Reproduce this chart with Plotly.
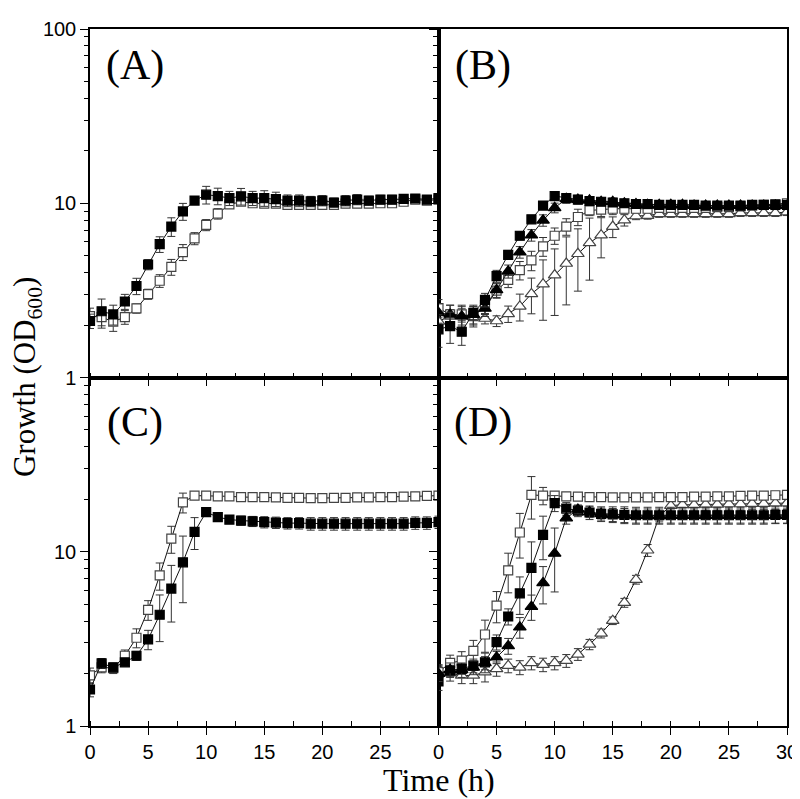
import plotly.graph_objects as go
from plotly.subplots import make_subplots

time_h = list(range(31))

# Panel A
a_filled_sq = [2.11, 2.40, 2.30, 2.73, 3.35, 4.45, 5.82, 7.35, 8.98, 10.36, 11.2, 11.0, 10.7, 10.96, 10.7, 10.7,
               10.57, 10.36, 10.36, 10.25, 10.36, 10.1, 10.36, 10.5, 10.36, 10.5, 10.5, 10.6, 10.65, 10.5, 10.7]
a_filled_sq_err = [0.2, 0.42, 0.3, 0.27, 0.36, 0.3, 0.6, 0.9, 1.0, 0.5, 1.3, 1.2, 1.0, 1.2, 1.0, 1.1,
                   1.0, 0.8, 0.8, 0.7, 0.7, 0.6, 0.7, 0.7, 0.6, 0.6, 0.6, 0.5, 0.5, 0.4, 0.4]
a_open_sq = [2.25, 2.22, 2.09, 2.22, 2.49, 3.01, 3.59, 4.31, 5.24, 6.28, 7.51, 8.71, 9.84, 10.2, 10.0, 9.95,
             9.95, 9.8, 9.8, 9.8, 9.8, 9.8, 9.95, 9.95, 9.95, 10.0, 10.0, 10.2, 10.5, 10.36, 10.5]
a_open_sq_err = [0.25, 0.3, 0.25, 0.2, 0.15, 0.2, 0.3, 0.45, 0.55, 0.5, 0.55, 0.6, 0.5, 0.4, 0.35, 0.35,
                 0.35, 0.35, 0.35, 0.35, 0.35, 0.35, 0.3, 0.3, 0.3, 0.3, 0.3, 0.3, 0.3, 0.3, 0.3]

# Panel B
b_filled_sq = [1.89, 1.97, 1.83, 2.35, 2.79, 3.82, 5.06, 6.51, 8.09, 9.7, 11.0, 10.7, 10.5, 10.3, 10.2, 10.1,
               10.0, 9.9, 9.9, 9.8, 9.8, 9.8, 9.8, 9.7, 9.7, 9.7, 9.7, 9.8, 9.8, 9.8, 9.8]
b_filled_sq_err = [0.4, 0.4, 0.3, 0.2, 0.25, 0.3, 0.3, 0.35, 0.4, 0.5, 0.6, 0.6, 0.6, 0.5, 0.5, 0.5,
                   0.5, 0.5, 0.5, 0.5, 0.5, 0.5, 0.5, 0.5, 0.5, 0.5, 0.5, 0.4, 0.4, 0.4, 0.4]
b_filled_tri = [2.35, 2.3, 2.25, 2.3, 2.49, 3.18, 4.07, 5.24, 6.56, 7.98, 9.41, 10.6, 10.5, 10.4, 10.2, 10.2,
                10.0, 9.9, 9.8, 9.8, 9.8, 9.8, 9.7, 9.7, 9.7, 9.7, 9.7, 9.7, 9.7, 9.7, 9.7]
b_filled_tri_err = [0.3, 0.3, 0.3, 0.3, 0.25, 0.3, 0.35, 0.4, 0.5, 0.6, 0.6, 0.6, 0.5, 0.5, 0.5, 0.5,
                    0.5, 0.5, 0.5, 0.5, 0.5, 0.5, 0.5, 0.5, 0.5, 0.5, 0.5, 0.5, 0.5, 0.5, 0.5]
b_open_sq = [2.5, 2.3, 2.3, 2.25, 2.6, 3.15, 3.63, 4.13, 4.7, 5.66, 6.51, 7.35, 8.34, 9.09, 9.2, 9.3,
             9.3, 9.3, 9.3, 9.4, 9.4, 9.4, 9.4, 9.4, 9.5, 9.5, 9.6, 9.7, 9.8, 9.9, 10.0]
b_open_sq_err = [0.3, 0.3, 0.3, 0.3, 0.3, 0.3, 0.35, 0.5, 0.6, 0.7, 0.7, 0.8, 0.9, 0.6, 0.8, 0.7,
                 0.5, 0.5, 0.5, 0.5, 0.5, 0.5, 0.5, 0.5, 0.5, 0.5, 0.5, 0.5, 0.5, 0.5, 0.5]
b_open_tri = [2.1, 2.25, 2.28, 2.23, 2.18, 2.11, 2.32, 2.56, 3.02, 3.43, 3.87, 4.51, 5.13, 5.92, 6.56, 7.35,
              8.0, 8.45, 8.5, 8.7, 8.7, 8.7, 8.7, 8.7, 8.7, 8.7, 8.8, 8.8, 8.8, 8.8, 8.9]
b_open_tri_err = [0.2, 0.2, 0.2, 0.2, 0.15, 0.15, 0.25, 0.45, 0.7, 1.3, 1.6, 1.9, 2.0, 2.3, 1.7, 1.0,
                  0.6, 0.4, 0.4, 0.4, 0.4, 0.4, 0.4, 0.4, 0.4, 0.4, 0.4, 0.4, 0.4, 0.4, 0.4]

# Panel C
c_filled_sq = [1.62, 2.29, 2.17, 2.32, 2.53, 3.14, 4.35, 6.15, 8.7, 13.0, 16.9, 15.8, 15.3, 15.1, 14.95, 14.8,
               14.7, 14.6, 14.6, 14.5, 14.5, 14.5, 14.5, 14.5, 14.5, 14.5, 14.5, 14.5, 14.65, 14.65, 14.8]
c_filled_sq_err = [0.15, 0.15, 0.1, 0.1, 0.15, 0.4, 1.3, 2.2, 3.6, 2.7, 0.5, 0.6, 0.8, 0.9, 1.0, 1.1,
                   1.1, 1.1, 1.1, 1.2, 1.2, 1.2, 1.2, 1.2, 1.2, 1.2, 1.2, 1.2, 1.2, 1.2, 1.2]
c_open_sq = [1.95, 2.17, 2.15, 2.53, 3.21, 4.64, 7.32, 11.9, 19.2, 21.0, 21.0, 20.8, 20.8, 20.6, 20.6, 20.6,
             20.5, 20.4, 20.4, 20.3, 20.3, 20.4, 20.4, 20.5, 20.5, 20.6, 20.6, 20.7, 20.8, 20.9, 21.0]
c_open_sq_err = [0.2, 0.15, 0.15, 0.2, 0.4, 0.6, 1.3, 2.1, 2.5, 0.5, 0.5, 0.5, 0.5, 0.5, 0.5, 0.5,
                 0.5, 0.5, 0.5, 0.5, 0.5, 0.5, 0.5, 0.5, 0.5, 0.5, 0.5, 0.5, 0.5, 0.5, 0.5]

# Panel D
d_open_sq = [2.04, 2.3, 2.37, 2.7, 3.35, 4.91, 7.81, 12.9, 21.2, 21.0, 21.0, 20.8, 20.7, 20.6, 20.6, 20.5,
             20.5, 20.5, 20.5, 20.6, 20.6, 20.6, 20.7, 20.7, 20.8, 20.8, 20.9, 21.0, 21.0, 21.1, 21.2]
d_open_sq_err = [0.2, 0.25, 0.3, 0.4, 0.7, 1.0, 2.0, 3.7, 5.8, 2.4, 0.5, 0.5, 0.5, 0.5, 0.5, 0.5,
                 0.5, 0.5, 0.5, 0.5, 0.5, 0.5, 0.5, 0.5, 0.5, 0.5, 0.5, 0.5, 0.5, 0.5, 0.5]
d_filled_sq = [1.80, 2.08, 2.13, 2.22, 2.32, 3.03, 4.25, 5.77, 8.09, 12.5, 19.0, 17.7, 17.2, 16.8, 16.5, 16.4,
               16.3, 16.2, 16.2, 16.2, 16.2, 16.2, 16.2, 16.2, 16.2, 16.2, 16.2, 16.2, 16.2, 16.3, 16.3]
d_filled_sq_err = [0.2, 0.15, 0.15, 0.2, 0.3, 0.3, 0.45, 1.4, 3.3, 3.5, 2.0, 1.5, 1.3, 1.5, 1.6, 1.7,
                   1.8, 1.8, 1.8, 1.8, 1.8, 1.8, 1.8, 1.8, 1.8, 1.8, 1.8, 1.8, 1.8, 1.8, 1.8]
d_filled_tri = [2.0, 2.1, 2.1, 2.17, 2.3, 2.48, 2.88, 3.69, 4.84, 6.62, 9.78, 15.6, 17.5, 16.9, 16.5, 16.3,
                16.2, 16.1, 16.1, 16.1, 16.1, 16.1, 16.1, 16.1, 16.1, 16.1, 16.1, 16.1, 16.1, 16.1, 16.1]
d_filled_tri_err = [0.2, 0.2, 0.2, 0.2, 0.2, 0.2, 0.3, 0.5, 0.8, 1.6, 3.9, 1.2, 1.0, 1.2, 1.3, 1.4,
                    1.5, 1.5, 1.5, 1.5, 1.5, 1.5, 1.5, 1.5, 1.5, 1.5, 1.5, 1.5, 1.5, 1.5, 1.5]
d_open_tri = [2.04, 2.01, 1.95, 1.95, 2.04, 2.13, 2.22, 2.17, 2.3, 2.25, 2.3, 2.37, 2.58, 2.94, 3.4, 4.02,
              5.1, 6.92, 10.2, 16.0, 18.4, 18.6, 18.6, 18.7, 18.7, 18.8, 18.8, 18.9, 18.9, 19.0, 19.0]
d_open_tri_err = [0.2, 0.2, 0.2, 0.2, 0.25, 0.2, 0.2, 0.2, 0.2, 0.2, 0.2, 0.2, 0.2, 0.2, 0.2, 0.2,
                  0.3, 0.4, 0.8, 1.0, 1.5, 1.5, 1.5, 1.5, 1.5, 1.5, 1.5, 1.5, 1.5, 1.5, 1.5]

panel_labels = ["(A)", "(B)", "(C)", "(D)"]
y_tickvals_top = [1, 10, 100]
y_tickvals_bottom = [1, 10]
x_tickvals_left = [0, 5, 10, 15, 20, 25]
x_tickvals_right = [0, 5, 10, 15, 20, 25, 30]

fig = make_subplots(rows=2, cols=2, horizontal_spacing=0, vertical_spacing=0)

ERR_COLOR = "#333333"


def add_series(y, err, row, col, symbol, filled):
    fig.add_trace(go.Scatter(
        x=time_h, y=y, mode="lines+markers",
        line=dict(color="#111111", width=1),
        marker=dict(symbol=symbol, size=9 if "square" in symbol else 11,
                    color="black" if filled else "white",
                    line=dict(color="black" if filled else "#444444", width=1.2)),
        error_y=dict(type="data", array=err, visible=True, color=ERR_COLOR, thickness=1, width=4),
        showlegend=False), row=row, col=col)


add_series(a_open_sq, a_open_sq_err, 1, 1, "square", False)
add_series(a_filled_sq, a_filled_sq_err, 1, 1, "square", True)

add_series(b_open_tri, b_open_tri_err, 1, 2, "triangle-up", False)
add_series(b_open_sq, b_open_sq_err, 1, 2, "square", False)
add_series(b_filled_tri, b_filled_tri_err, 1, 2, "triangle-up", True)
add_series(b_filled_sq, b_filled_sq_err, 1, 2, "square", True)

add_series(c_open_sq, c_open_sq_err, 2, 1, "square", False)
add_series(c_filled_sq, c_filled_sq_err, 2, 1, "square", True)

add_series(d_open_tri, d_open_tri_err, 2, 2, "triangle-up", False)
add_series(d_open_sq, d_open_sq_err, 2, 2, "square", False)
add_series(d_filled_sq, d_filled_sq_err, 2, 2, "square", True)
add_series(d_filled_tri, d_filled_tri_err, 2, 2, "triangle-up", True)

minor_y = [m * 10 ** e for e in (0, 1) for m in range(2, 10)]
tick_font = dict(family="Liberation Sans, Arial", size=20, color="black")

for r in (1, 2):
    for c in (1, 2):
        xt = x_tickvals_left if c == 1 else x_tickvals_right
        fig.update_xaxes(
            range=[0, 30], tickvals=xt,
            showticklabels=(r == 2), ticks="outside", ticklen=7, tickwidth=1.2, tickcolor="black",
            minor=dict(ticks="inside", ticklen=5, dtick=2.5, tick0=0, tickcolor="black", tickwidth=1.2),
            showline=True, linecolor="black", linewidth=1.5, mirror=True,
            showgrid=False, zeroline=False, tickfont=tick_font,
            row=r, col=c)
        yt = y_tickvals_top if r == 1 else y_tickvals_bottom
        fig.update_yaxes(
            type="log", range=[0, 2], tickvals=yt, ticktext=[str(v) for v in yt],
            showticklabels=(c == 1), ticks="outside", ticklen=8, tickwidth=1.2, tickcolor="black",
            minor=dict(ticks="outside", ticklen=4, tickvals=minor_y, tickcolor="black", tickwidth=1),
            showline=True, linecolor="black", linewidth=1.5, mirror=True,
            showgrid=False, zeroline=False, tickfont=tick_font,
            row=r, col=c)

label_pos = [(0.064, 0.948), (0.564, 0.948), (0.064, 0.435), (0.564, 0.435)]
for text, (px, py) in zip(panel_labels, label_pos):
    fig.add_annotation(text=text, x=px, y=py, xref="paper", yref="paper",
                       showarrow=False, xanchor="center", yanchor="middle",
                       font=dict(family="Liberation Serif, Times New Roman", size=42, color="black"))

fig.add_annotation(text="Growth (OD<sub>600</sub>)", x=-0.091, y=0.5, xref="paper", yref="paper",
                   textangle=-90, showarrow=False, xanchor="center", yanchor="middle",
                   font=dict(family="Liberation Serif, Times New Roman", size=31, color="black"))
fig.add_annotation(text="Time (h)", x=0.5, y=-0.0777, xref="paper", yref="paper",
                   showarrow=False, xanchor="center", yanchor="middle",
                   font=dict(family="Liberation Serif, Times New Roman", size=32, color="black"))

fig.update_layout(width=800, height=799, margin=dict(l=82, r=12, t=10, b=81),
                  plot_bgcolor="white", paper_bgcolor="white")

fig.write_html("out.html")
